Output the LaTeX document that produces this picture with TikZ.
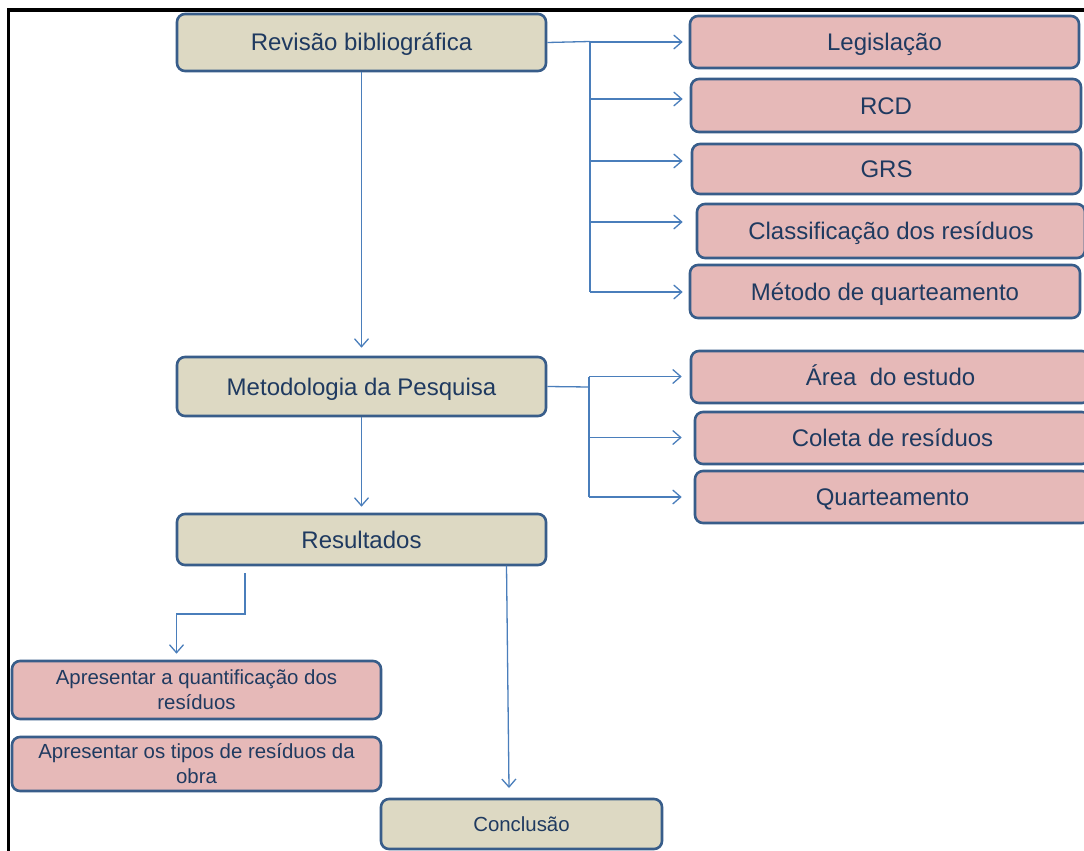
\documentclass[tikz,border=0pt]{standalone}
\usepackage{fontspec}
\setmainfont{Liberation Sans}
\usetikzlibrary{arrows.meta}
\definecolor{beige}{HTML}{DDD9C3}
\definecolor{pinkf}{HTML}{E6B9B8}
\definecolor{bord}{HTML}{385D8A}
\definecolor{txt}{HTML}{1F3A60}
\definecolor{conc}{HTML}{4A7EBB}
\tikzset{
  basebox/.style={draw=bord, line width=2.6pt, rounded corners=8pt, inner sep=0pt, text=txt, align=center},
  tanbox/.style={basebox, fill=beige},
  rosebox/.style={basebox, fill=pinkf},
  bigtxt/.style={font=\fontsize{24}{28}\selectfont, text height=17pt, text depth=0pt},
  smalltxt/.style={font=\fontsize{20.4}{25}\selectfont},
  onetxt/.style={font=\fontsize{20.4}{25}\selectfont, text height=14.5pt, text depth=0pt},
  conn/.style={draw=conc, line width=1.3pt},
  arr/.style={conn, -{Straight Barb[length=8pt,width=14pt,line width=1.3pt]}},
}
\begin{document}
\begin{tikzpicture}[x=1pt,y=-1pt]
\useasboundingbox (0,0) rectangle (1084,851);
\fill[white] (0,0) rectangle (1084,851);
% frame
\draw[line width=3.5pt] (8.5,853) -- (8.5,10) -- (1090,10);
% left column
\node[tanbox,bigtxt,minimum width=369pt,minimum height=57pt] (rev) at (361.5,42.5) {Revisão bibliográfica};
\node[tanbox,bigtxt,minimum width=369pt,minimum height=59pt] (mp) at (361.5,386.5) {Metodologia da Pesquisa};
\node[tanbox,bigtxt,minimum width=369pt,minimum height=51pt] (res) at (361.5,539.5) {Resultados};
\node[rosebox,smalltxt,minimum width=369pt,minimum height=58pt] (aq) at (196.5,690) {Apresentar a quantificação dos\\resíduos};
\node[rosebox,smalltxt,minimum width=369pt,minimum height=54pt] (at) at (196.5,764) {Apresentar os tipos de resíduos da\\obra};
\node[tanbox,onetxt,minimum width=281pt,minimum height=50pt] (con) at (521.5,824) {Conclusão};
% right column
\node[rosebox,bigtxt,minimum width=389pt,minimum height=52pt] (leg) at (884.5,42) {Legislação};
\node[rosebox,bigtxt,minimum width=390pt,minimum height=53pt] (rcd) at (886,105.5) {RCD};
\node[rosebox,bigtxt,minimum width=389pt,minimum height=50pt] (grs) at (886.5,169) {GRS};
\node[rosebox,bigtxt,minimum width=388pt,minimum height=54pt] (cla) at (891,231) {Classificação dos resíduos};
\node[rosebox,bigtxt,minimum width=390pt,minimum height=53pt] (met) at (885,291.5) {Método de quarteamento};
\node[rosebox,bigtxt,minimum width=399pt,minimum height=52pt] (area) at (890.5,377) {Área\ \ do estudo};
\node[rosebox,bigtxt,minimum width=395pt,minimum height=52pt] (col) at (892.5,438) {Coleta de resíduos};
\node[rosebox,bigtxt,minimum width=395pt,minimum height=52pt] (qua) at (892.5,497) {Quarteamento};
% connectors top group
\coordinate (t1) at (590,41.5);
\coordinate (t2) at (590,292);
\draw[conn] (rev.east) -- (t1);
\draw[conn] (t1) -- (t2);
\draw[arr,shorten >=6pt] (t1 |- leg.west) -- (leg.west);
\draw[arr,shorten >=7pt] ([yshift=6.5pt]rcd.west -| t1) -- ([yshift=6.5pt]rcd.west);
\draw[arr,shorten >=8pt] ([yshift=8pt]grs.west -| t1) -- ([yshift=8pt]grs.west);
\draw[arr,shorten >=13pt] ([yshift=9pt]cla.west -| t1) -- ([yshift=9pt]cla.west);
\draw[arr,shorten >=6pt] (t2) -- (t2 -| met.west);
% connectors middle group
\coordinate (m1) at (589,387);
\coordinate (m2) at (589,376.5);
\coordinate (m3) at (589,497);
\draw[conn] (mp.east) -- (m1);
\draw[conn] (m2) -- (m3);
\draw[arr,shorten >=8pt] (m2) -- (m2 -| area.west);
\draw[arr,shorten >=12pt] ([yshift=0.5pt]col.west -| m1) -- ([yshift=0.5pt]col.west);
\draw[arr,shorten >=12pt] (m3) -- (qua.west);
% vertical flow
\draw[arr,shorten >=8pt] (rev.south) -- (mp.north);
\draw[arr,shorten >=6pt] (mp.south) -- (res.north);
% from Resultados
\coordinate (r1) at (245,573);
\coordinate (r2) at (245,614);
\coordinate (r3) at (176.5,614);
\draw[arr,shorten >=6pt] (r1) -- (r2) -- (r3) -- (r3 |- aq.north);
\coordinate (r4) at (506.5,565.5);
\coordinate (r5) at (509,788);
\draw[arr] (r4) -- (r5);
\end{tikzpicture}
\end{document}
